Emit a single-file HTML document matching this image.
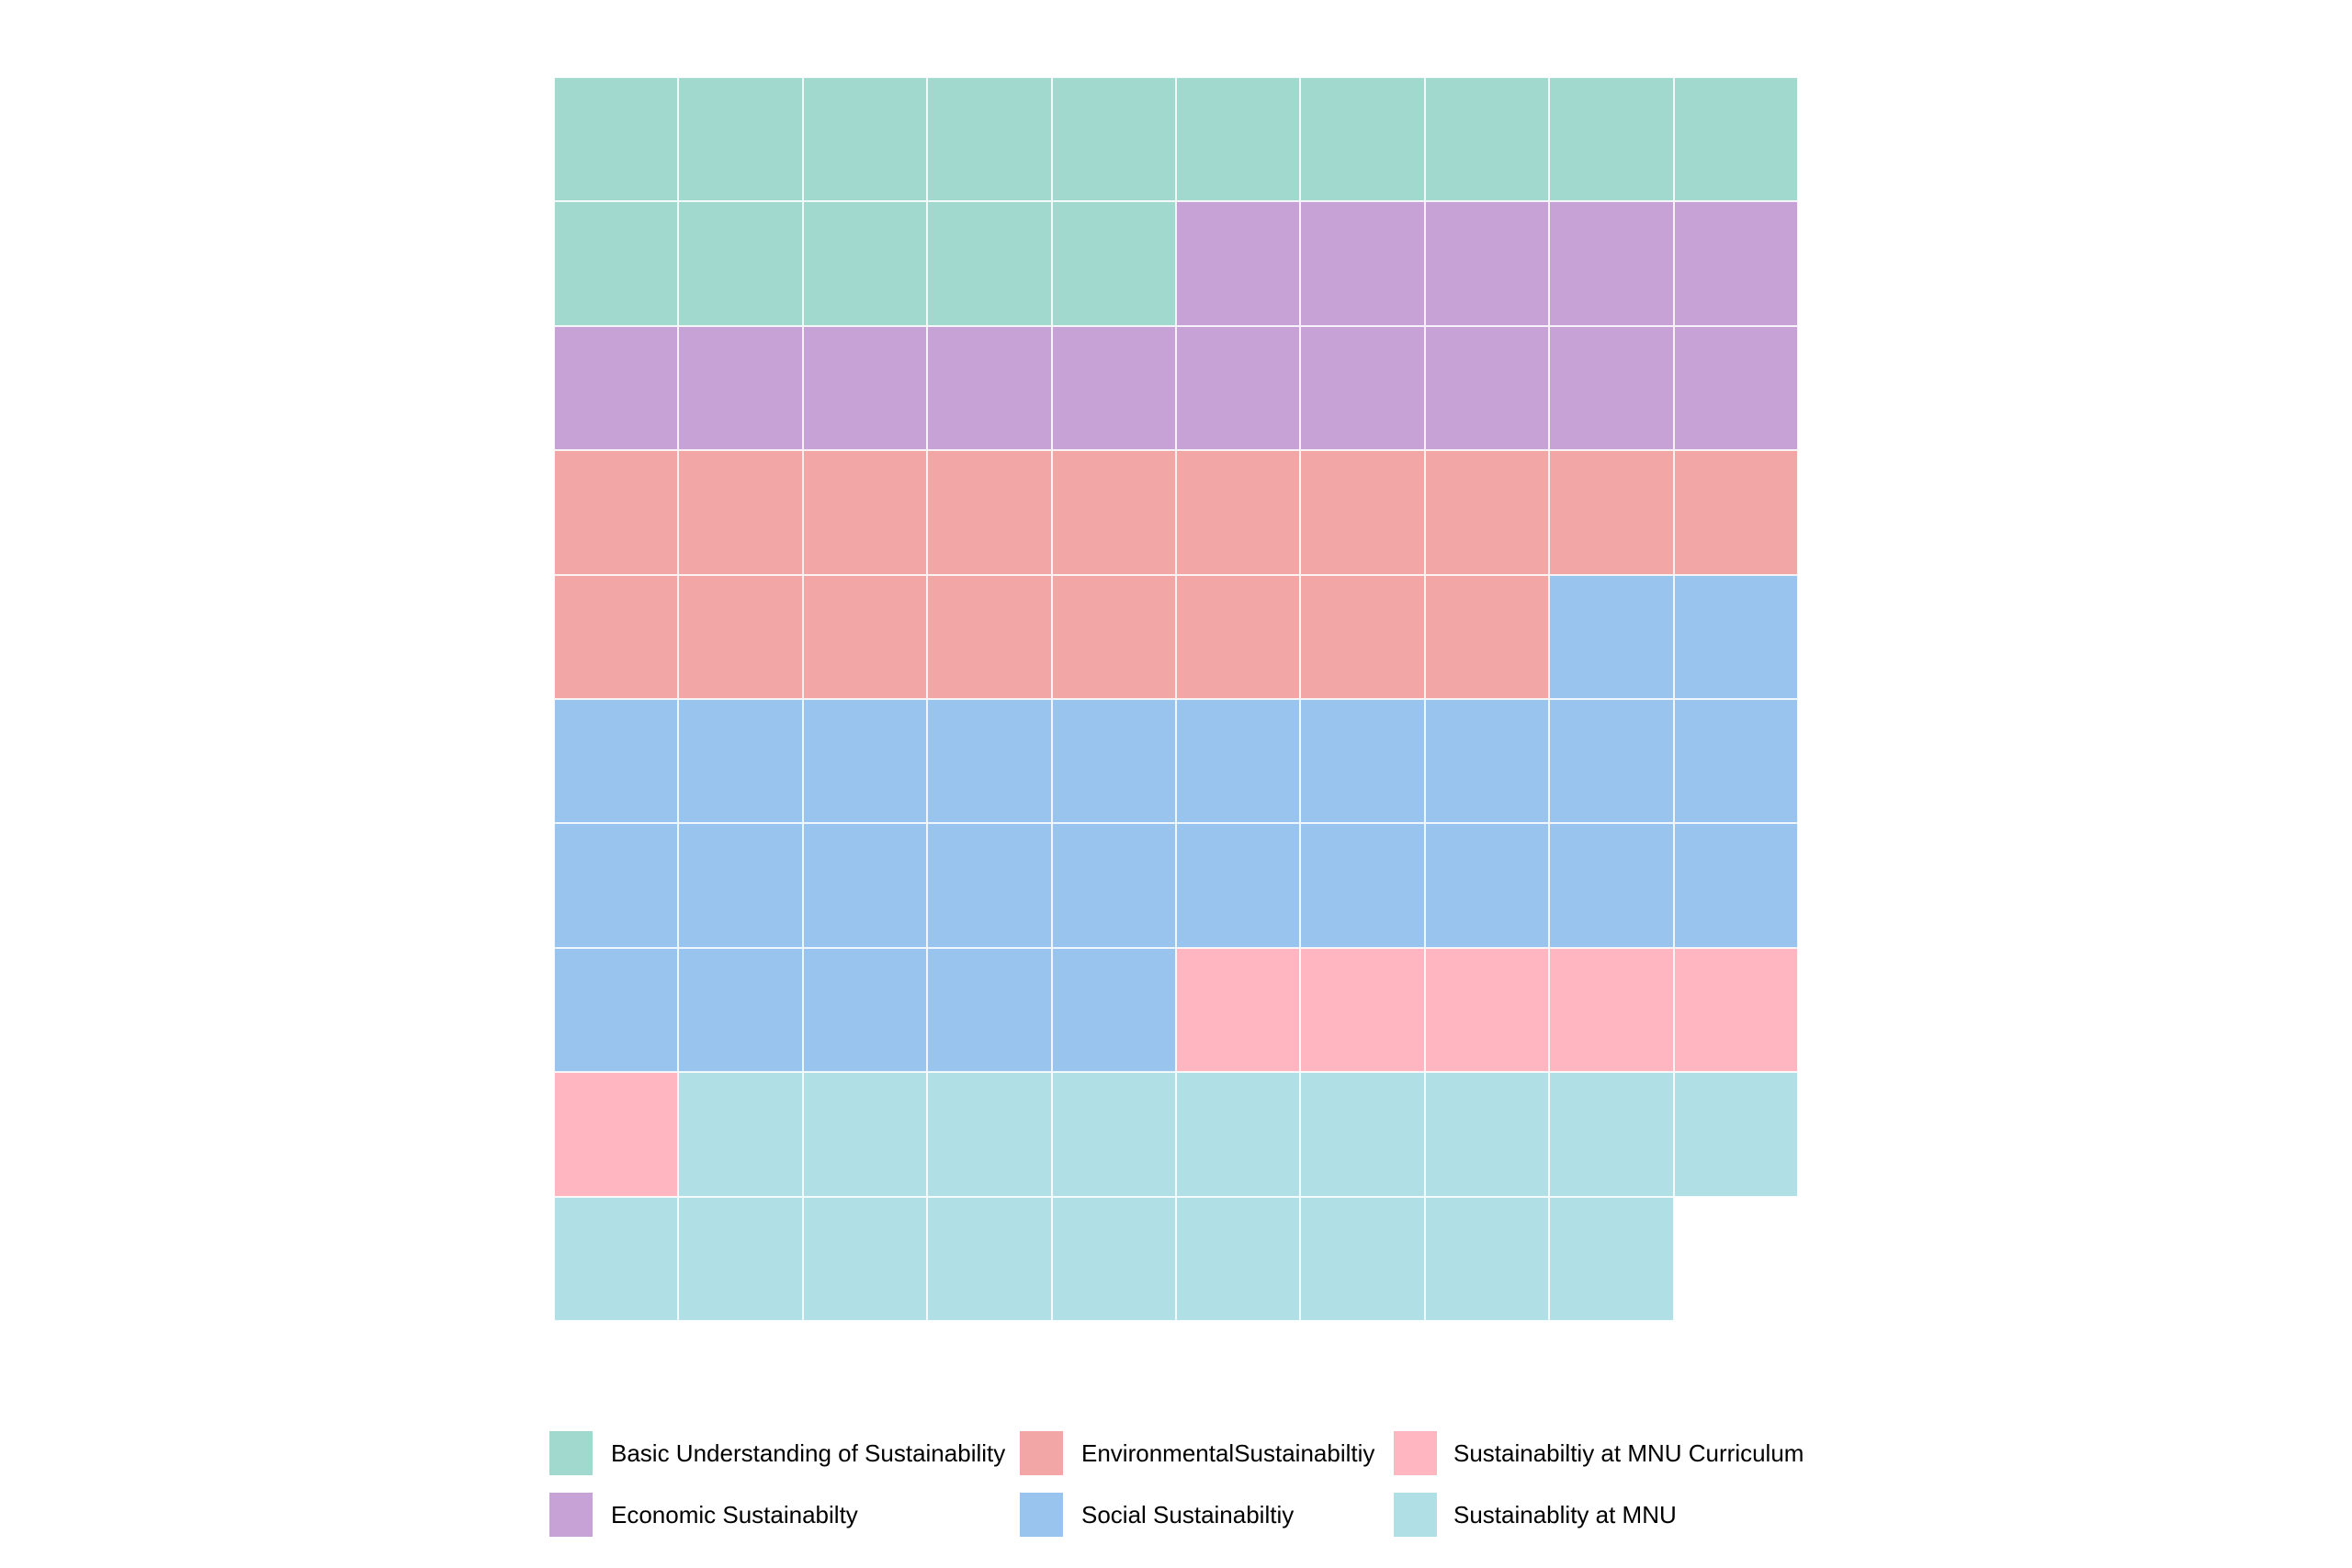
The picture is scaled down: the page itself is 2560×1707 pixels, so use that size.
<!DOCTYPE html>
<html><head><style>
body{margin:0;background:#fff;width:2560px;height:1707px;position:relative;overflow:hidden;font-family:"Liberation Sans",sans-serif}
.c{position:absolute;width:135.4px;height:135.4px;box-sizing:border-box;border:1px solid rgba(255,255,255,0.85)}
.sq{position:absolute;width:47px;height:48px}
.t{position:absolute;font-size:26px;color:#000;line-height:30px}
</style></head><body>
<div id="g"></div>
<div class="sq" style="left:598px;top:1558px;background:#a2d9ce"></div><div class="t" style="left:665px;top:1567px">Basic Understanding of Sustainability</div>
<div class="sq" style="left:1110px;top:1558px;background:#f2a6a5"></div><div class="t" style="left:1177px;top:1567px">EnvironmentalSustainabiltiy</div>
<div class="sq" style="left:1517px;top:1558px;background:#ffb6c1"></div><div class="t" style="left:1582px;top:1567px">Sustainabiltiy at MNU Curriculum</div>
<div class="sq" style="left:598px;top:1625px;background:#c6a2d6"></div><div class="t" style="left:665px;top:1634px">Economic Sustainabilty</div>
<div class="sq" style="left:1110px;top:1625px;background:#99c4ee"></div><div class="t" style="left:1177px;top:1634px">Social Sustainabiltiy</div>
<div class="sq" style="left:1517px;top:1625px;background:#b0e0e6"></div><div class="t" style="left:1582px;top:1634px">Sustainablity at MNU</div>
<script>
var cols=[["#a2d9ce",15],["#c6a2d6",15],["#f2a6a5",18],["#99c4ee",27],["#ffb6c1",6],["#b0e0e6",18]];
var h="",i=0;
cols.forEach(function(c){for(var k=0;k<c[1];k++){var r=Math.floor(i/10),col=i%10;
h+='<div class="c" style="left:'+(603+col*135.4)+'px;top:'+(84+r*135.4)+'px;background:'+c[0]+'"></div>';i++;}});
document.getElementById("g").innerHTML=h;
</script>
</body></html>
